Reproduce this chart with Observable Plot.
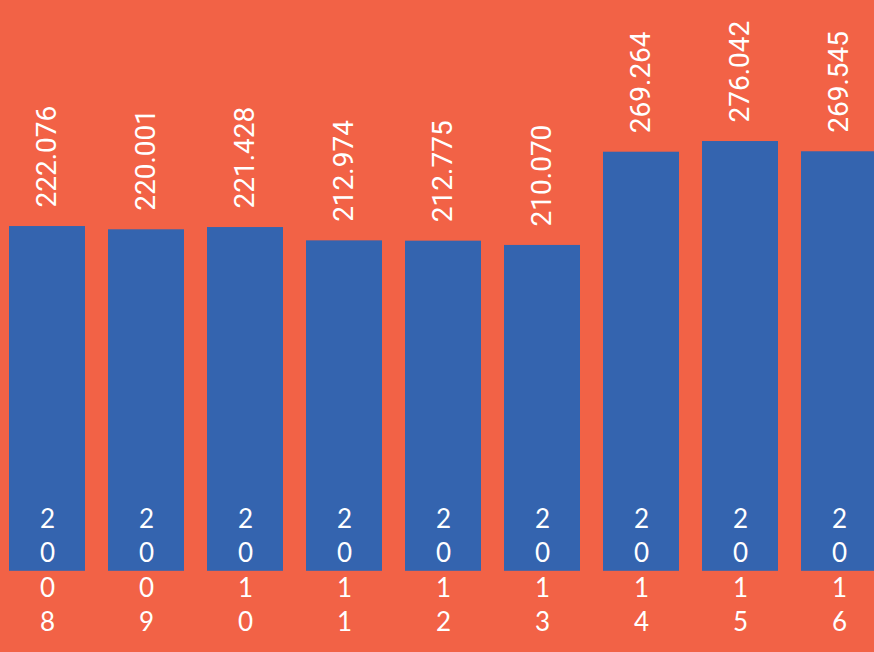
<!DOCTYPE html>
<html>
<head>
<meta charset="utf-8">
<script src="https://cdn.jsdelivr.net/npm/d3@7"></script>
<script src="https://cdn.jsdelivr.net/npm/@observablehq/plot@0.6"></script>
<style>
  html, body { margin: 0; padding: 0; background: #F26246; overflow: hidden; }
  #chart svg { display: block; }
</style>
</head>
<body>
<div id="chart"></div>
<script>
const years = ["2008", "2009", "2010", "2011", "2012", "2013", "2014", "2015", "2016"];
const values = [222.076, 220.001, 221.428, 212.974, 212.775, 210.070, 269.264, 276.042, 269.545];
const valueLabels = ["222.076", "220.001", "221.428", "212.974", "212.775", "210.070", "269.264", "276.042", "269.545"];

const data = years.map((y, i) => ({year: y, value: values[i], label: valueLabels[i], stacked: y.split("").join("\n")}));

const chart = Plot.plot({
  width: 874,
  height: 652,
  margin: 0,
  style: {background: "#F26246", overflow: "hidden"},
  x: {domain: years, range: [9, 877], paddingInner: 23 / 99, paddingOuter: 0, axis: null},
  y: {domain: [0, 300], range: [575.8, 103.3], axis: null},
  marks: [
    Plot.barY(data, {x: "year", y: "value", fill: "#3464AF", insetBottom: 5}),
    Plot.text(data, {
      x: "year", y: "value", text: "label", rotate: -90, textAnchor: "start",
      dx: 0, dy: -19, fill: "white", fontSize: 28, fontFamily: "Roboto", lineAnchor: "middle"
    }),
    Plot.text(data, {
      x: "year", y: () => 0, text: "stacked", lineHeight: 1.33, lineAnchor: "middle",
      dy: -8, fill: "white", fontSize: 26, fontFamily: "Lato"
    })
  ]
});
document.getElementById("chart").appendChild(chart);
</script>
</body>
</html>
